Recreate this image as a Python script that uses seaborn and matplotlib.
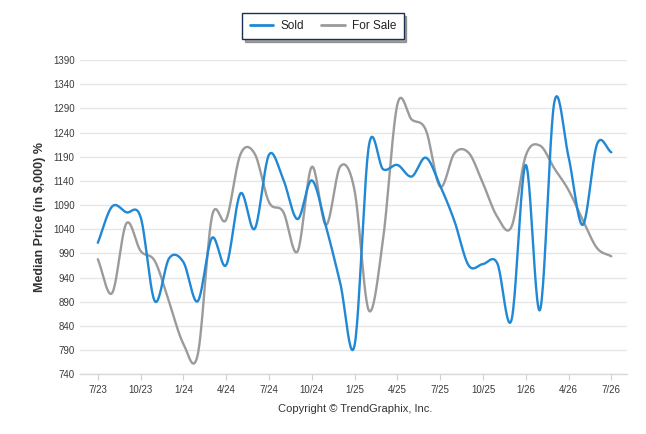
import numpy as np
import pandas as pd
import matplotlib
matplotlib.use("Agg")
import matplotlib.pyplot as plt
import seaborn as sns
from matplotlib.lines import Line2D

months = ["7/23", "8/23", "9/23", "10/23", "11/23", "12/23",
          "1/24", "2/24", "3/24", "4/24", "5/24", "6/24",
          "7/24", "8/24", "9/24", "10/24", "11/24", "12/24",
          "1/25", "2/25", "3/25", "4/25", "5/25", "6/25",
          "7/25", "8/25", "9/25", "10/25", "11/25", "12/25",
          "1/26", "2/26", "3/26", "4/26", "5/26", "6/26", "7/26"]

sold = [1012, 1087, 1075, 1065, 891, 980,
        972, 891, 1022, 966, 1114, 1041,
        1194, 1143, 1061, 1141, 1045, 928,
        800, 1212, 1164, 1173, 1149, 1188,
        1130, 1057, 965, 968, 970, 852,
        1173, 873, 1302, 1190, 1049, 1216, 1199]

for_sale = [978, 908, 1052, 995, 974, 889,
            803, 780, 1066, 1060, 1195, 1196,
            1096, 1076, 994, 1169, 1049, 1170,
            1120, 872, 1020, 1298, 1267, 1245,
            1128, 1197, 1198, 1135, 1066, 1045,
            1192, 1213, 1166, 1121, 1059, 1001, 984]

y_ticks = [740, 790, 840, 890, 940, 990, 1040, 1090, 1140, 1190,
           1240, 1290, 1340, 1390]
x_tick_labels = months[::3]

series_names = ["Sold", "For Sale"]
colors = {"Sold": "#2088d4", "For Sale": "#9b9b9b"}


def smooth(vals, n=24):
    """Catmull-Rom interpolation through the monthly points (for drawing)."""
    v = np.asarray(vals, dtype=float)
    k = len(v)
    m = np.zeros(k)
    m[1:-1] = (v[2:] - v[:-2]) / 2.0
    m[0] = v[1] - v[0]
    m[-1] = v[-1] - v[-2]
    xs, ys = [], []
    for i in range(k - 1):
        t = np.linspace(0, 1, n, endpoint=False)
        h00 = 2 * t**3 - 3 * t**2 + 1
        h10 = t**3 - 2 * t**2 + t
        h01 = -2 * t**3 + 3 * t**2
        h11 = t**3 - t**2
        ys.append(h00 * v[i] + h10 * m[i] + h01 * v[i + 1] + h11 * m[i + 1])
        xs.append(i + t)
    xs.append(np.array([k - 1.0]))
    ys.append(np.array([v[-1]]))
    return np.concatenate(xs), np.concatenate(ys)


frames = []
for name, vals in zip(series_names, [sold, for_sale]):
    xs, ys = smooth(vals)
    frames.append(pd.DataFrame({"x": xs, "value": ys, "series": name}))
df = pd.concat(frames, ignore_index=True)

sns.set_theme(style="white")
plt.rcParams["font.family"] = ["Liberation Sans", "DejaVu Sans"]

fig = plt.figure(figsize=(6.46, 4.34), dpi=100)
ax = fig.add_axes([80 / 646, 1 - 374.3 / 434, (627 - 80) / 646, (374.3 - 60) / 434])

sns.lineplot(data=df, x="x", y="value", hue="series", hue_order=["For Sale", "Sold"],
             palette=colors, linewidth=1.7, legend=False, sort=False,
             estimator=None, ax=ax)

ax.set_ylim(740, 1390)
ax.set_xlim(-1.25, 37.1)
ax.set_yticks(y_ticks)
ax.set_yticklabels([str(t) for t in y_ticks])
ax.set_xticks(range(0, len(months), 3))
ax.set_xticklabels(x_tick_labels)

ax.grid(axis="y", color="#e6e6e6", linewidth=1.0)
ax.grid(axis="x", visible=False)
ax.set_axisbelow(True)
for s in ["top", "right", "left"]:
    ax.spines[s].set_visible(False)
ax.spines["bottom"].set_color("#d8d8d8")
ax.spines["bottom"].set_linewidth(1.0)

ax.tick_params(axis="y", length=0, pad=4, labelsize=7, labelcolor="#3a3a3a")
ax.tick_params(axis="x", length=4, width=0.8, color="#d0d0d0", pad=4,
               labelsize=7, labelcolor="#3a3a3a", bottom=True)

ax.set_xlabel("")
ax.set_ylabel("Median Price (in $,000) %", fontsize=9, fontweight="bold",
              color="#333333", labelpad=5)

fig.text(355 / 646, 1 - 409 / 434, "Copyright \u00a9 TrendGraphix, Inc.",
         ha="center", va="center", fontsize=8, color="#333333")

handles = [Line2D([0], [0], color=colors["Sold"], lw=2),
           Line2D([0], [0], color=colors["For Sale"], lw=2)]
leg = fig.legend(handles, series_names, loc="center",
                 bbox_to_anchor=(323 / 646, 1 - 26 / 434), ncol=2,
                 fontsize=8.5, frameon=True, fancybox=False, shadow=True,
                 handlelength=2.0, columnspacing=1.5, handletextpad=0.6,
                 borderpad=0.6)
leg.get_frame().set_edgecolor("#1c2f52")
leg.get_frame().set_linewidth(1.0)
for t in leg.get_texts():
    t.set_color("#222222")

fig.savefig("out.png", dpi=100)
